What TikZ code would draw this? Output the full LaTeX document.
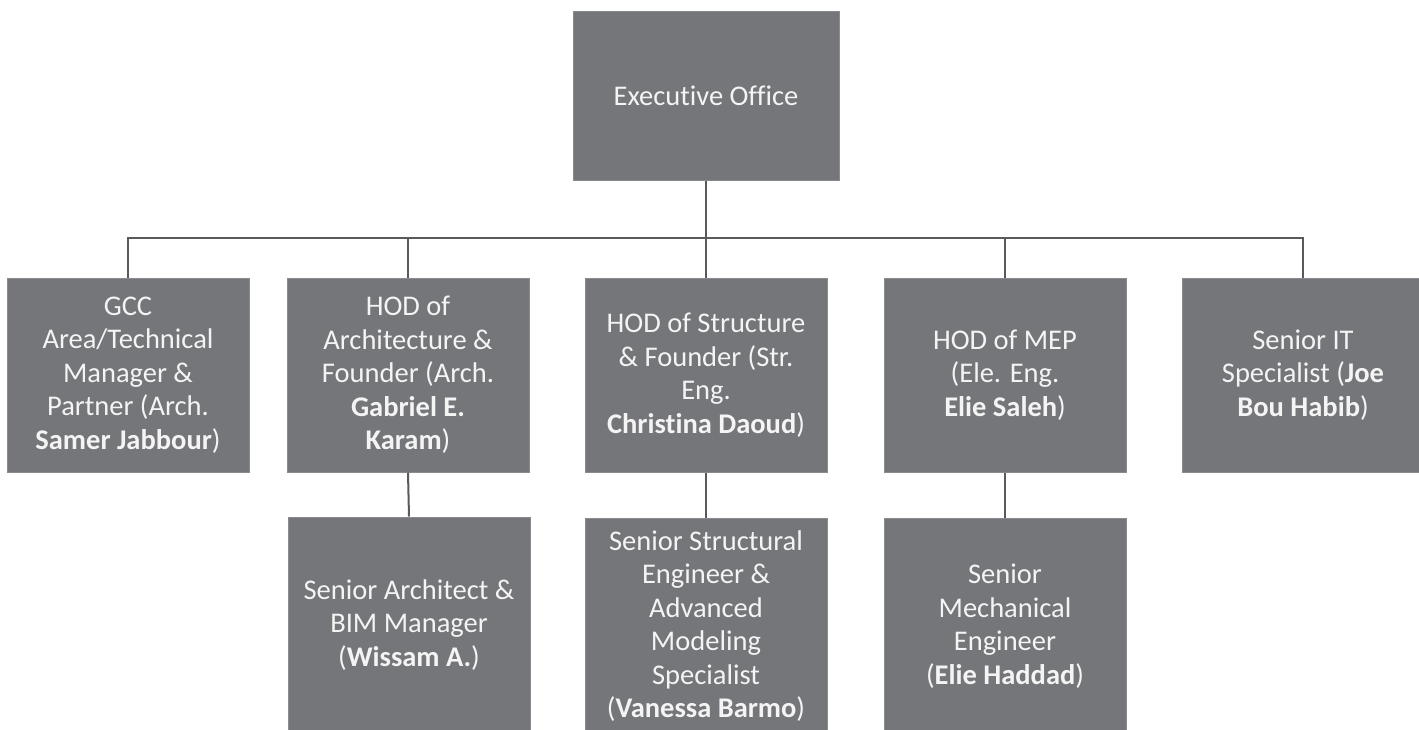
\documentclass[tikz,border=0pt]{standalone}
\usepackage{fontspec}
\setmainfont[Ligatures=NoCommon]{Carlito}
\definecolor{boxgray}{HTML}{75767A}
\definecolor{linegray}{HTML}{5A5A5C}
\definecolor{txt}{HTML}{F4F4F4}
\begin{document}
\begin{tikzpicture}[x=1pt,y=-1pt,
  orgbox/.style={fill=boxgray, draw=boxgray!85!white, line width=1pt, text=txt, align=center,
    inner sep=0pt, minimum width=242pt, minimum height=194pt,
    font=\fontsize{28.5}{33.5}\selectfont},
  conn/.style={draw=linegray, line width=2pt}]
\clip (0,0) rectangle (1419,729);
\fill[white] (0,0) rectangle (1419,729);
\node[orgbox, minimum width=266pt, minimum height=169pt] (exec) at (706,95.5) {Executive Office};
\node[orgbox] (gcc) at (128,375) {GCC\\Area/Technical\\Manager \&\\Partner (Arch.\\\textbf{Samer Jabbour})};
\node[orgbox] (arch) at (408,375) {HOD of\\Architecture \&\\Founder (Arch.\\\textbf{Gabriel E.}\\\textbf{Karam})};
\node[orgbox] (str) at (706,375) {HOD of Structure\\\& Founder (Str.\\Eng.\\\textbf{Christina Daoud})};
\node[orgbox] (mep) at (1005,375) {HOD of MEP\\(Ele. Eng.\\\textbf{Elie Saleh})};
\node[orgbox] (it) at (1303,375) {Senior IT\\Specialist (\textbf{Joe}\\\textbf{Bou Habib})};
\node[orgbox, minimum height=216pt] (archsub) at (409,625) {Senior Architect \&\\BIM Manager\\(\textbf{Wissam A.})};
\node[orgbox, minimum height=216pt] (strsub) at (706,626) {Senior Structural\\Engineer \&\\Advanced\\Modeling\\Specialist\\(\textbf{Vanessa Barmo})};
\node[orgbox, minimum height=216pt] (mepsub) at (1005,626) {Senior\\Mechanical\\Engineer\\(\textbf{Elie Haddad})};
\coordinate (bus) at (0,238);
\draw[conn] (exec.south) -- (exec.south |- bus);
\draw[conn] (gcc.north) -- (gcc.north |- bus) -- (it.north |- bus) -- (it.north);
\draw[conn] (arch.north) -- (arch.north |- bus);
\draw[conn] (str.north) -- (str.north |- bus);
\draw[conn] (mep.north) -- (mep.north |- bus);
\draw[conn] (arch.south) -- (archsub.north);
\draw[conn] (str.south) -- (strsub.north);
\draw[conn] (mep.south) -- (mepsub.north);
\end{tikzpicture}
\end{document}
